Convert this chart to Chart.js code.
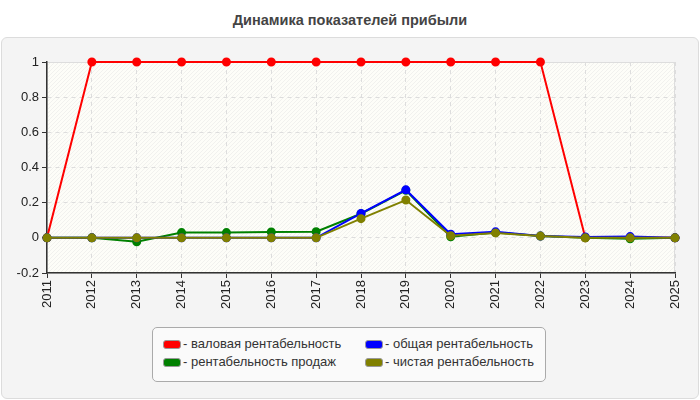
<!DOCTYPE html>
<html>
<head>
<meta charset="utf-8">
<script src="https://cdn.jsdelivr.net/npm/chart.js@4/dist/chart.umd.min.js"></script>
<style>
  html, body { margin: 0; padding: 0; background: #fff; }
  body { width: 700px; height: 400px; position: relative; overflow: hidden; font-family: "Liberation Sans", Arial, sans-serif; }
  #title { position: absolute; left: 0; top: 12px; width: 700px; text-align: center; font-size: 14.5px; font-weight: bold; color: #444; }
  #panel { position: absolute; left: 1px; top: 37px; width: 696px; height: 360px; background: #f4f4f4; border: 1px solid #dcdcdc; border-radius: 6px; }
  #wrap { position: absolute; left: 0; top: 0; width: 700px; height: 400px; }
  #legend { position: absolute; left: 152px; top: 327px; width: 394px; height: 55px; border: 1px solid #aaa; border-radius: 5px; background: #fafafa; box-sizing: border-box; font-size: 13px; color: #333; }
  .item { position: absolute; display: flex; align-items: center; white-space: nowrap; line-height: 16px; }
  .sw { width: 16px; height: 7px; border-radius: 3px; border: 1px solid #999; margin-right: 2px; }
</style>
</head>
<body>
<div id="title">Динамика показателей прибыли</div>
<div id="panel"></div>
<div id="wrap"><canvas id="viz" width="700" height="400"></canvas></div>
<div id="legend"></div>
<script>
// Categories
const YEARS = ['2011','2012','2013','2014','2015','2016','2017','2018','2019','2020','2021','2022','2023','2024','2025'];

// Series values
const GROSS  = [0, 1, 1, 1, 1, 1, 1, 1, 1, 1, 1, 1, 0, 0, 0];
const SALES  = [0, 0, -0.022, 0.03, 0.03, 0.033, 0.035, 0.137, 0.27, 0.006, 0.03, 0.01, 0, -0.005, 0];
const TOTAL  = [0, 0, 0, 0, 0, 0, 0, 0.139, 0.273, 0.021, 0.034, 0.01, 0.005, 0.007, 0];
const NET    = [0, 0, 0, 0, 0, 0, 0, 0.109, 0.215, 0.012, 0.028, 0.01, 0, 0, 0];

// Y ticks
const Y_MIN = -0.2, Y_MAX = 1, Y_STEP = 0.2;

const $ = (id) => document.getElementById(id);

const series = [
  { label: 'валовая рентабельность',  data: GROSS, color: '#ff0000', order: 3 },
  { label: 'рентабельность продаж',   data: SALES, color: '#008000', order: 2 },
  { label: 'общая рентабельность',    data: TOTAL, color: '#0000ff', order: 1 },
  { label: 'чистая рентабельность',   data: NET,   color: '#808000', order: 0 }
];

// Legend (html, two columns: red/blue, green/olive)
const legendOrder = [0, 2, 1, 3];
$('legend').innerHTML = legendOrder.map((idx, i) => {
  const s = series[idx];
  const left = 10 + (i % 2) * 202;
  const top = 8 + Math.floor(i / 2) * 18;
  return `<div class="item" style="left:${left}px;top:${top}px"><span class="sw" style="background:${s.color}"></span>- ${s.label}</div>`;
}).join('');

// Plot background: ivory with faint diagonal hatch
const plotBg = {
  id: 'plotBg',
  beforeDraw(chart) {
    const { ctx, chartArea: a } = chart;
    ctx.save();
    ctx.fillStyle = '#fdfdf8';
    ctx.fillRect(a.left, a.top, a.right - a.left, a.bottom - a.top);
    ctx.beginPath();
    ctx.rect(a.left, a.top, a.right - a.left, a.bottom - a.top);
    ctx.clip();
    ctx.strokeStyle = 'rgba(215,215,215,0.3)';
    ctx.lineWidth = 1;
    for (let x = a.left - (a.bottom - a.top); x < a.right; x += 4) {
      ctx.beginPath();
      ctx.moveTo(x, a.bottom);
      ctx.lineTo(x + (a.bottom - a.top), a.top);
      ctx.stroke();
    }
    ctx.restore();
    ctx.save();
    ctx.strokeStyle = '#dddddd';
    ctx.strokeRect(a.left + 0.5, a.top + 0.5, a.right - a.left - 1, a.bottom - a.top);
    ctx.restore();
  }
};

const tickFont = { size: 13, family: 'Liberation Sans' };

new Chart($('viz').getContext('2d'), {
  type: 'line',
  data: {
    labels: YEARS,
    datasets: series.map(s => ({
      label: s.label,
      data: s.data,
      borderColor: s.color,
      backgroundColor: s.color,
      pointBackgroundColor: s.color,
      pointBorderColor: s.color,
      borderWidth: 2,
      pointRadius: 3.5,
      tension: 0,
      clip: false,
      order: s.order
    }))
  },
  options: {
    responsive: false,
    animation: false,
    layout: { padding: { left: 0, right: 25, top: 62, bottom: 0 } },
    plugins: { legend: { display: false }, tooltip: { enabled: false } },
    scales: {
      x: {
        offset: false,
        grid: { color: '#dddddd', tickLength: 5, tickColor: '#333' },
        border: { color: '#333', width: 1.5, dash: [4, 4] },
        ticks: { color: '#222', font: tickFont, maxRotation: 90, minRotation: 90, autoSkip: false, padding: 2 },
        afterFit: (s) => { s.height = 127; }
      },
      y: {
        min: Y_MIN, max: Y_MAX,
        grid: { color: '#dddddd', tickLength: 5, tickColor: '#333' },
        border: { color: '#333', width: 1.5, dash: [4, 4] },
        ticks: { stepSize: Y_STEP, color: '#222', font: tickFont, padding: 3,
          callback: (v) => +v.toFixed(1) },
        afterFit: (s) => { s.width = 47; }
      }
    }
  },
  plugins: [plotBg]
});
</script>
</body>
</html>
